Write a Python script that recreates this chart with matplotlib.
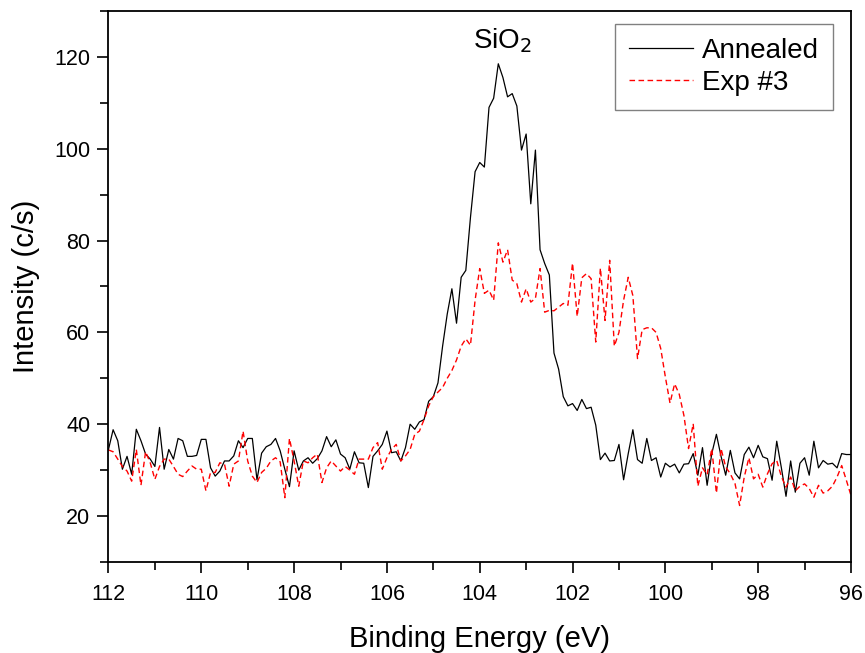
import numpy as np
import matplotlib
matplotlib.use('Agg')
import matplotlib.pyplot as plt
from matplotlib.ticker import MultipleLocator

plt.rcParams['font.family'] = ['Liberation Sans', 'DejaVu Sans']

# binding energy grid, 0.1 eV steps from 112 down to 96 eV
energy = np.linspace(112.0, 96.0, 161)

annealed = [
    34.5, 38.8, 36.4, 30.2, 33.0, 29.1, 38.9, 36.4, 33.5, 32.4,
    30.8, 39.3, 30.2, 34.5, 32.4, 36.9, 36.4, 33.0, 33.0, 33.2,
    36.7, 36.7, 30.5, 28.7, 29.8, 32.0, 32.0, 33.1, 36.4, 34.9,
    36.9, 36.9, 27.9, 33.7, 35.1, 35.6, 36.9, 34.2, 30.2, 26.4,
    34.2, 30.0, 32.0, 32.7, 31.5, 32.5, 34.2, 37.3, 35.1, 36.6,
    33.5, 32.7, 30.2, 34.0, 31.6, 31.5, 26.2, 33.0, 34.2, 35.6,
    38.5, 33.8, 34.0, 32.0, 34.9, 40.0, 38.9, 40.5,
    41.0, 45.0, 46.0, 49.0, 57.0, 64.0, 69.5, 62.0, 72.0, 73.5,
    85.0, 95.0, 97.0, 96.0, 109.0, 111.0, 118.5, 115.5, 111.3, 112.0,
    109.3, 99.7, 103.2, 88.0, 99.7, 78.0, 75.0, 72.5, 55.5, 52.0,
    46.0, 44.0, 44.5, 43.0, 45.4, 43.4, 43.7, 39.8, 32.3, 33.7,
    32.0, 32.1, 35.6, 27.9, 33.6, 38.8, 32.3, 31.5, 36.9, 32.1,
    32.7, 28.5, 31.5, 30.7, 31.3, 29.4, 31.3, 31.4, 33.6, 28.9,
    34.9, 26.7, 33.6, 37.8, 33.0, 28.9, 34.3, 29.4, 28.1, 33.4,
    35.0, 32.7, 35.4, 32.9, 32.5, 27.8, 36.3, 30.5, 24.3, 32.0,
    25.2, 31.5, 32.7, 28.9, 36.3, 30.5, 32.1, 31.3, 31.5, 30.5,
    33.6, 33.4, 33.4,
]

exp3 = [
    34.4, 34.0, 32.4, 30.8, 29.8, 27.6, 34.5, 26.7, 34.0, 31.6,
    28.0, 30.8, 32.4, 32.4, 30.8, 29.1, 28.6, 29.8, 30.9, 30.2,
    30.2, 25.5, 29.5, 29.5, 31.6, 31.3, 26.5, 31.3, 32.0, 38.5,
    32.0, 28.7, 27.3, 29.5, 30.4, 32.0, 32.7, 31.8, 24.0, 36.9,
    32.0, 26.5, 32.0, 31.6, 32.7, 33.5, 27.3, 30.5, 32.0, 30.9,
    29.8, 30.8, 30.0, 29.1, 32.4, 32.4, 32.4, 34.9, 36.0, 30.2,
    32.7, 34.5, 35.6, 32.0, 33.1, 34.5, 37.8, 38.5,
    41.0, 44.0, 46.0, 47.0, 48.0, 50.0, 51.7, 54.0, 57.0, 58.6,
    57.2, 67.0, 73.9, 68.5, 69.2, 67.0, 79.5, 75.3, 78.0, 71.4,
    70.6, 66.6, 69.5, 66.6, 67.4, 73.9, 64.4, 64.8, 64.7, 65.5,
    66.3, 65.9, 75.1, 63.5, 71.9, 72.8, 71.7, 57.9, 74.0, 62.6,
    75.7, 57.0, 60.0, 67.0, 72.0, 68.0, 54.3, 60.6, 61.0, 61.0,
    60.0, 56.5, 50.3, 44.6, 48.8, 46.5, 41.9, 34.7, 40.1, 26.5,
    30.5, 29.0, 34.7, 25.0, 34.7, 30.7, 29.2, 27.1, 22.3, 28.5,
    32.7, 28.1, 29.1, 26.3, 29.2, 31.4, 32.1, 28.6, 26.3, 28.5,
    25.5, 26.5, 27.0, 26.0, 24.1, 26.7, 25.0, 25.5, 26.5, 28.5,
    31.0, 27.8, 24.5,
]

fig = plt.figure(figsize=(8.65, 6.53), dpi=100)
ax = fig.add_axes([0.1254, 0.1394, 0.8584, 0.8438])

ax.plot(energy, annealed, color='black', lw=0.9, label='Annealed')
ax.plot(energy, exp3, color='red', lw=1.0, dashes=(4, 2.5), label='Exp #3')

ax.set_xlim(112, 96)
ax.set_ylim(10, 130)
ax.xaxis.set_major_locator(MultipleLocator(2))
ax.xaxis.set_minor_locator(MultipleLocator(1))
ax.yaxis.set_minor_locator(MultipleLocator(10))
ax.set_yticks([20, 40, 60, 80, 100, 120])

for s in ax.spines.values():
    s.set_linewidth(1.3)
ax.tick_params(which='major', direction='out', length=8, width=1.2,
               labelsize=15.5, top=False, right=False)
ax.tick_params(axis='x', which='major', pad=8)
ax.tick_params(axis='y', which='major', pad=5)
ax.tick_params(which='minor', direction='out', length=5.5, width=1.2,
               top=False, right=False)

ax.set_xlabel('Binding Energy (eV)', fontsize=21, labelpad=14)
ax.set_ylabel('Intensity (c/s)', fontsize=21, labelpad=10)

ax.text(103.5, 123.5, 'SiO$_2$', fontsize=20, ha='center', va='center')

leg = ax.legend(loc='upper right', bbox_to_anchor=(0.976, 0.976),
                fontsize=20, frameon=True, fancybox=False, framealpha=1,
                handlelength=2.3, handletextpad=0.35, borderpad=0.5,
                labelspacing=0.2, borderaxespad=0)
leg.get_frame().set_edgecolor('#808080')
leg.get_frame().set_linewidth(1.0)

fig.savefig('out.png', dpi=100)
